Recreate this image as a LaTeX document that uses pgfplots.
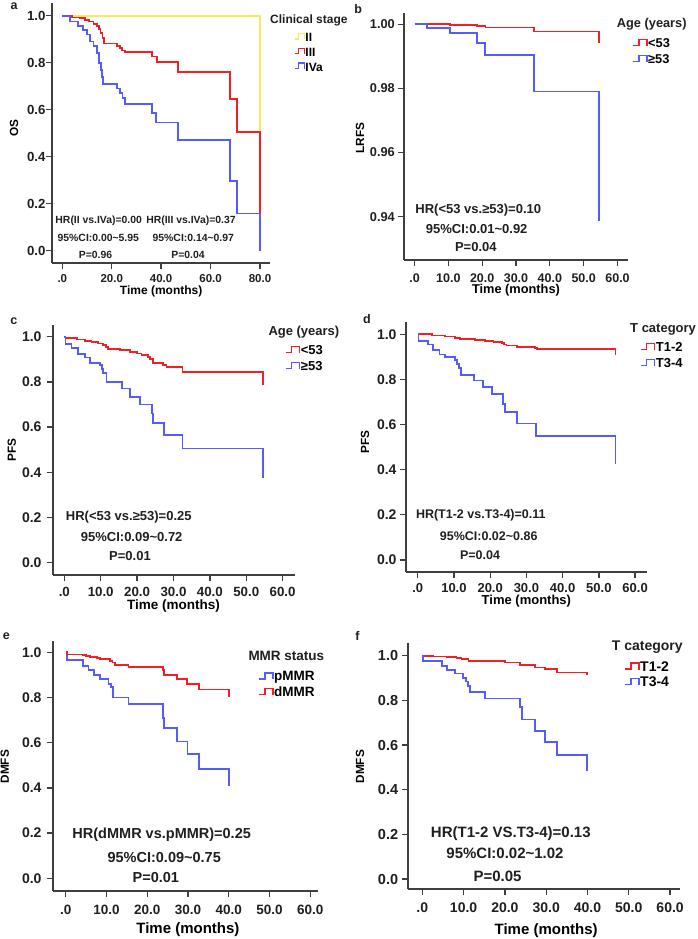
\documentclass[border=0pt]{standalone}
\usepackage{pgfplots}
\pgfplotsset{compat=1.18}
\usepackage{fontspec}
\setmainfont{Liberation Sans}
\definecolor{kmred}{RGB}{240,32,36}
\definecolor{kmblue}{RGB}{84,92,250}
\definecolor{kmyellow}{RGB}{246,236,90}
\definecolor{axgray}{RGB}{62,62,62}
\newcommand\fs[1]{\fontsize{#1}{#1}\selectfont\bfseries}
\pgfplotsset{
  km/.style={
    scale only axis, axis lines*=left, clip=false,
    axis line style={line width=2pt, draw=axgray, -},
    tick align=outside, major tick length=6pt,
    tick style={line width=1.3pt, draw=axgray},
    every axis x label/.style={anchor=base},
    every axis y label/.style={rotate=90, anchor=center, font=\fs{11.8}},
    xticklabel style={anchor=center, inner sep=0pt, text=black!88},
    yticklabel style={anchor=east, inner sep=0pt, text=black!88},
    every axis plot/.append style={const plot, line width=1.75pt, mark=none},
    legend style={draw=none, fill=none, inner sep=0pt, outer sep=0pt,
      nodes={inner sep=0.6pt, text height=8.5pt, text depth=0.5pt}},
    legend cell align=left,
  },
  legA/.style={legend image code/.code={\draw[##1, line width=1.3pt] (0pt,-1.5pt) -- (4pt,-1.5pt) -- (4pt,4pt) -- (9.5pt,4pt) -- (9.5pt,-1.5pt);}},
  legB/.style={legend image code/.code={\draw[##1, line width=1.3pt] (0pt,-2pt) -- (6pt,-2pt) -- (6pt,4pt) -- (14pt,4pt) -- (14pt,-2.5pt);}},
}
\begin{document}
\begin{tikzpicture}
\useasboundingbox (0,0) rectangle (697pt,-939pt);
% ---------------- panel a ----------------
\begin{axis}[km, legA, at={(51.7pt,-263.3pt)}, anchor=south west, width=218.3pt, height=260pt,
  xmin=-4.29, xmax=84.05, ymin=-0.0545, ymax=1.053,
  xtick={0,20,40,60,80}, xticklabels={.0,20.0,40.0,60.0,80.0},
  ytick={0,0.2,0.4,0.6,0.8,1}, yticklabels={0.0,0.2,0.4,0.6,0.8,1.0},
  xticklabel style={font=\fs{11.5}, yshift=-9pt},
  yticklabel style={font=\fs{13.2}},
  xlabel={Time (months)}, ylabel={OS},
  xlabel style={at={(axis description cs:0.5014,0)}, font=\fs{12}, yshift=-30.8pt},
  ylabel style={at={(axis description cs:-0.1727,0.52)}},
  legend style={at={(axis description cs:1.110,0.8115)}, anchor=west, font=\fs{12}, row sep=4.5pt}]
\addplot[kmyellow] coordinates {(0,1) (80,1) (80,0.506)};
\addlegendentry{II}
\addplot[kmred] coordinates {(0,1) (3.8,0.993) (7.2,0.989) (9.2,0.982) (10.9,0.975) (12.6,0.965) (13.9,0.957) (14.8,0.942) (15.5,0.925) (16.3,0.904) (16.9,0.882) (22,0.872) (23.3,0.862) (24.2,0.852) (25.4,0.845) (36.2,0.826) (38.2,0.803) (46.9,0.761) (67.9,0.644) (70.8,0.506) (80,0.158)};
\addlegendentry{III}
\addplot[kmblue] coordinates {(0,1) (3.1,0.975) (6.5,0.955) (8.5,0.94) (10.1,0.92) (11.2,0.89) (12.6,0.87) (13.9,0.84) (14.8,0.80) (15.7,0.77) (16.1,0.74) (16.6,0.71) (22,0.69) (23.3,0.67) (24.4,0.65) (25.4,0.625) (36.2,0.585) (37.9,0.545) (46.9,0.47) (67.9,0.297) (70.8,0.158) (80,0.0)};
\addlegendentry{IVa}
\end{axis}
% ---------------- panel b ----------------
\begin{axis}[km, legB, at={(403.5pt,-260pt)}, anchor=south west, width=224.5pt, height=247.3pt,
  xmin=-3.25, xmax=63.1, ymin=0.9265, ymax=1.0036,
  xtick={0,10,20,30,40,50,60}, xticklabels={.0,10.0,20.0,30.0,40.0,50.0,60.0},
  ytick={0.94,0.96,0.98,1}, yticklabels={0.94,0.96,0.98,1.00},
  xticklabel style={font=\fs{12.5}, yshift=-12pt},
  yticklabel style={font=\fs{12.8}, xshift=-2.5pt},
  xlabel={Time (months)}, ylabel={LRFS},
  xlabel style={at={(axis description cs:0.501,0)}, font=\fs{12.8}, yshift=-33.6pt},
  ylabel style={at={(axis description cs:-0.194,0.493)}},
  legend style={at={(axis description cs:1.019,0.8423)}, anchor=west, font=\fs{12.8}, row sep=6pt}]
\addplot[kmred] coordinates {(0,1) (10.5,0.9998) (18.5,0.9995) (21,0.999) (35.4,0.9977) (54.6,0.994)};
\addlegendentry{<53}
\addplot[kmblue] coordinates {(0,1) (3.7,0.99875) (10.6,0.9972) (18.5,0.9941) (20.9,0.9903) (35.4,0.979) (54.6,0.9386)};
\addlegendentry{≥53}
\end{axis}
% ---------------- panel c ----------------
\begin{axis}[km, legB, at={(52.7pt,-575pt)}, anchor=south west, width=242.3pt, height=250pt,
  xmin=-3.19, xmax=63.4, ymin=-0.0544, ymax=1.052,
  xtick={0,10,20,30,40,50,60}, xticklabels={.0,10.0,20.0,30.0,40.0,50.0,60.0},
  ytick={0,0.2,0.4,0.6,0.8,1}, yticklabels={0.0,0.2,0.4,0.6,0.8,1.0},
  xticklabel style={font=\fs{13.3}, yshift=-11pt},
  yticklabel style={font=\fs{14}, xshift=-5pt},
  xlabel={Time (months)}, ylabel={PFS},
  xlabel style={at={(axis description cs:0.4984,0)}, font=\fs{13.5}, yshift=-34.9pt},
  ylabel style={at={(axis description cs:-0.169,0.5)}},
  legend style={at={(axis description cs:0.9587,0.8668)}, anchor=west, font=\fs{13}, row sep=6pt}]
\addplot[kmred] coordinates {(0,1) (0.3,0.993) (3.4,0.988) (5.7,0.982) (7.5,0.976) (9.3,0.97) (10.7,0.962) (11.4,0.955) (12.1,0.945) (15.3,0.94) (18,0.933) (19.9,0.926) (21.2,0.918) (23.1,0.91) (23.5,0.90) (24.3,0.885) (27.2,0.875) (28.1,0.865) (32.5,0.845) (54.7,0.786)};
\addlegendentry{<53}
\addplot[kmblue] coordinates {(0,1) (0.3,0.968) (2,0.95) (3.8,0.925) (5.7,0.908) (7.1,0.885) (9.8,0.875) (10.3,0.857) (10.7,0.84) (11.6,0.801) (15.8,0.771) (18,0.735) (20.8,0.70) (24,0.66) (24.3,0.617) (27.4,0.565) (32.5,0.506) (54.7,0.376)};
\addlegendentry{≥53}
\end{axis}
% ---------------- panel d ----------------
\begin{axis}[km, legB, at={(406pt,-571.7pt)}, anchor=south west, width=240.7pt, height=249.7pt,
  xmin=-3.23, xmax=63.2, ymin=-0.052, ymax=1.0545,
  xtick={0,10,20,30,40,50,60}, xticklabels={.0,10.0,20.0,30.0,40.0,50.0,60.0},
  ytick={0,0.2,0.4,0.6,0.8,1}, yticklabels={0.0,0.2,0.4,0.6,0.8,1.0},
  xticklabel style={font=\fs{13}, yshift=-10.7pt},
  yticklabel style={font=\fs{14}, xshift=-3.3pt},
  xlabel={Time (months)}, ylabel={PFS},
  xlabel style={at={(axis description cs:0.5002,0)}, font=\fs{13}, yshift=-32.9pt},
  ylabel style={at={(axis description cs:-0.170,0.521)}},
  legend style={at={(axis description cs:0.9722,0.8658)}, anchor=west, font=\fs{13}, row sep=5.5pt}]
\addplot[kmred] coordinates {(0,1) (3.9,0.995) (7.5,0.99) (10.3,0.985) (11.7,0.98) (15.8,0.975) (18.6,0.97) (20.9,0.965) (23.2,0.96) (23.9,0.955) (24.5,0.95) (27.3,0.945) (32.4,0.94) (33,0.935) (54.6,0.91)};
\addlegendentry{T1-2}
\addplot[kmblue] coordinates {(0,1) (0.2,0.97) (2.9,0.955) (4.3,0.93) (6,0.91) (7.5,0.90) (10.3,0.885) (10.9,0.87) (11.4,0.85) (11.9,0.82) (15.5,0.795) (18.1,0.765) (20.6,0.735) (23.6,0.69) (24.1,0.655) (27.3,0.605) (32.6,0.55) (54.6,0.425)};
\addlegendentry{T3-4}
\end{axis}
% ---------------- panel e ----------------
\begin{axis}[km, legB, at={(52.7pt,-890.7pt)}, anchor=south west, width=265.6pt, height=250pt,
  xmin=-3.19, xmax=62.0, ymin=-0.055, ymax=1.051,
  xtick={0,10,20,30,40,50,60}, xticklabels={.0,10.0,20.0,30.0,40.0,50.0,60.0},
  ytick={0,0.2,0.4,0.6,0.8,1}, yticklabels={0.0,0.2,0.4,0.6,0.8,1.0},
  xticklabel style={font=\fs{13.5}, yshift=-13pt},
  yticklabel style={font=\fs{14}, xshift=-5pt},
  xlabel={Time (months)}, ylabel={DMFS},
  xlabel style={at={(axis description cs:0.509,0)}, font=\fs{15}, yshift=-43pt},
  ylabel style={at={(axis description cs:-0.180,0.496)}},
  legend style={at={(axis description cs:0.7741,0.824)}, anchor=west, font=\fs{13.5}, row sep=5.5pt}]
\addplot[kmblue] coordinates {(0,1) (0.3,0.965) (4.3,0.94) (5.6,0.92) (7.0,0.90) (8.4,0.88) (10.5,0.86) (11.1,0.845) (11.7,0.80) (15.4,0.77) (23.8,0.71) (24.1,0.665) (27.3,0.605) (29.9,0.55) (32.7,0.485) (40,0.41)};
\addlegendentry{pMMR}
\addplot[kmred] coordinates {(0,1) (0.3,0.99) (4.3,0.987) (5,0.983) (6,0.979) (7.6,0.974) (8.5,0.97) (10.9,0.96) (11.5,0.955) (12.1,0.945) (15.4,0.935) (23.8,0.92) (24.2,0.90) (27.3,0.88) (29.7,0.86) (32.7,0.835) (40,0.80)};
\addlegendentry{dMMR}
\end{axis}
% ---------------- panel f ----------------
\begin{axis}[km, legB, at={(408.3pt,-889.3pt)}, anchor=south west, width=271.7pt, height=246.3pt,
  xmin=-3.39, xmax=62.4, ymin=-0.046, ymax=1.057,
  xtick={0,10,20,30,40,50,60}, xticklabels={.0,10.0,20.0,30.0,40.0,50.0,60.0},
  ytick={0,0.2,0.4,0.6,0.8,1}, yticklabels={0.0,0.2,0.4,0.6,0.8,1.0},
  xticklabel style={font=\fs{14}, yshift=-12.6pt},
  yticklabel style={font=\fs{14.5}, xshift=-4pt},
  xlabel={Time (months)}, ylabel={DMFS},
  xlabel style={at={(axis description cs:0.5075,0)}, font=\fs{15}, yshift=-44.8pt},
  ylabel style={at={(axis description cs:-0.178,0.498)}},
  legend style={at={(axis description cs:0.795,0.8713)}, anchor=west, font=\fs{14}, row sep=5pt}]
\addplot[kmred] coordinates {(0,1) (2.5,0.997) (5.9,0.993) (8.3,0.99) (9.5,0.985) (11.2,0.977) (20,0.97) (23.7,0.957) (27.3,0.947) (29.7,0.94) (32.6,0.925) (39.8,0.915)};
\addlegendentry{T1-2}
\addplot[kmblue] coordinates {(0,1) (0.2,0.975) (4.7,0.955) (5.9,0.935) (7.9,0.92) (9.9,0.90) (10.6,0.885) (11.1,0.865) (11.6,0.837) (15.2,0.809) (23.7,0.77) (24.1,0.715) (27.3,0.664) (29.7,0.615) (32.6,0.555) (39.8,0.485)};
\addlegendentry{T3-4}
\end{axis}
% ---------------- texts ----------------
\begin{scope}[every node/.style={inner sep=0pt, text=black!88}]
\node[font=\fs{12.5}] at (14pt,-6pt) {a};
\node[font=\fs{12.5}] at (358.3pt,-9.5pt) {b};
\node[font=\fs{12.5}] at (13.8pt,-321.3pt) {c};
\node[font=\fs{12.5}] at (367pt,-319pt) {d};
\node[font=\fs{12.5}] at (6.3pt,-636.3pt) {e};
\node[font=\fs{12.5}] at (357.5pt,-635.5pt) {f};
% legend titles
\node[font=\fs{12}, anchor=west] at (270pt,-20pt) {Clinical stage};
\node[font=\fs{12.8}, anchor=west] at (616.7pt,-24.3pt) {Age (years)};
\node[font=\fs{13}, anchor=west] at (268.3pt,-331.7pt) {Age (years)};
\node[font=\fs{13}, anchor=west] at (630pt,-329pt) {T category};
\node[font=\fs{13.5}, anchor=west] at (248.3pt,-656pt) {MMR status};
\node[font=\fs{14}, anchor=west] at (611.7pt,-647.3pt) {T category};
% panel a statistics
\node[font=\fs{10.4}] at (98.7pt,-220.7pt) {HR(II vs.IVa)=0.00};
\node[font=\fs{10.4}] at (98.3pt,-238.3pt) {95\%CI:0.00\textasciitilde5.95};
\node[font=\fs{10.4}] at (95.5pt,-255pt) {P=0.96};
\node[font=\fs{10.4}] at (191pt,-220.7pt) {HR(III vs.IVa)=0.37};
\node[font=\fs{10.4}] at (193.3pt,-238.3pt) {95\%CI:0.14\textasciitilde0.97};
\node[font=\fs{10.4}] at (188pt,-255pt) {P=0.04};
% panel b
\node[font=\fs{13}] at (478.3pt,-210pt) {HR(<53 vs.≥53)=0.10};
\node[font=\fs{13}] at (476.7pt,-229.3pt) {95\%CI:0.01\textasciitilde0.92};
\node[font=\fs{13}] at (475.8pt,-247.3pt) {P=0.04};
% panel c
\node[font=\fs{13}] at (128.8pt,-516.7pt) {HR(<53 vs.≥53)=0.25};
\node[font=\fs{13}] at (131.7pt,-536.7pt) {95\%CI:0.09\textasciitilde0.72};
\node[font=\fs{13}] at (130pt,-555.7pt) {P=0.01};
% panel d
\node[font=\fs{12.5}] at (480.8pt,-515.7pt) {HR(T1-2 vs.T3-4)=0.11};
\node[font=\fs{12.5}] at (488.7pt,-535.7pt) {95\%CI:0.02\textasciitilde0.86};
\node[font=\fs{12.5}] at (480pt,-555pt) {P=0.04};
% panel e
\node[font=\fs{14.5}] at (161.7pt,-835pt) {HR(dMMR vs.pMMR)=0.25};
\node[font=\fs{14.5}] at (164.2pt,-857.3pt) {95\%CI:0.09\textasciitilde0.75};
\node[font=\fs{14.5}] at (155.8pt,-877.3pt) {P=0.01};
% panel f
\node[font=\fs{15}] at (510.8pt,-834pt) {HR(T1-2 VS.T3-4)=0.13};
\node[font=\fs{15}] at (505pt,-853.3pt) {95\%CI:0.02\textasciitilde1.02};
\node[font=\fs{15}] at (497.5pt,-876.7pt) {P=0.05};
\end{scope}
\end{tikzpicture}
\end{document}
